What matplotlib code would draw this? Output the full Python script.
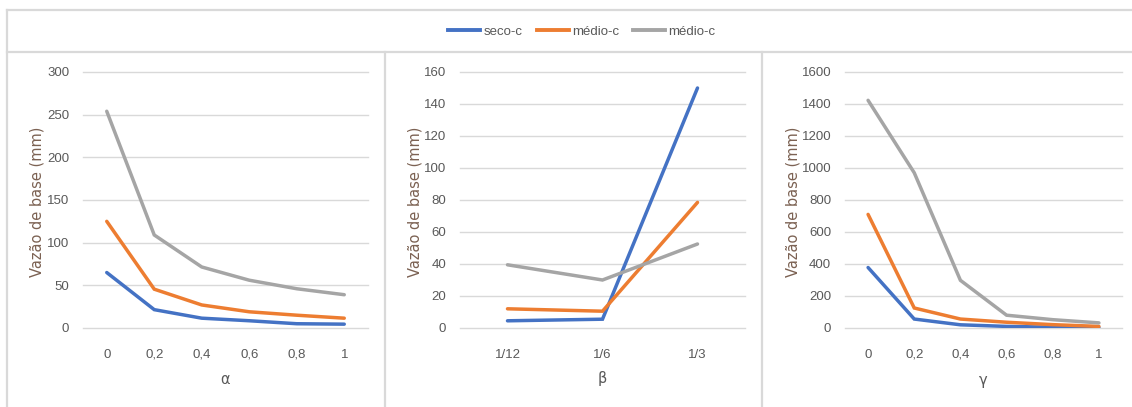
import matplotlib
matplotlib.use("Agg")
import matplotlib.pyplot as plt
from matplotlib.lines import Line2D

# Series names and colours
series_names = ["seco-c", "médio-c", "médio-c"]
series_colors = ["#4472C4", "#ED7D31", "#A5A5A5"]

# Panel 1: alpha
alpha_labels = ["0", "0,2", "0,4", "0,6", "0,8", "1"]
alpha_seco = [65, 21.5, 11.5, 8.5, 5, 4.5]
alpha_medio = [125, 45.5, 27, 19, 15, 11.5]
alpha_medio2 = [254, 109, 71.5, 56, 46, 39]

# Panel 2: beta
beta_labels = ["1/12", "1/6", "1/3"]
beta_seco = [4.5, 5.5, 150]
beta_medio = [12, 10.5, 78.5]
beta_medio2 = [39.5, 30, 52.5]

# Panel 3: gamma
gamma_labels = ["0", "0,2", "0,4", "0,6", "0,8", "1"]
gamma_seco = [378, 56, 20, 10, 5, 3]
gamma_medio = [710, 125, 56, 36, 21, 10]
gamma_medio2 = [1423, 970, 298, 80, 52, 32]

W, H = 1132, 407
fig = plt.figure(figsize=(W / 100, H / 100), dpi=100)
fig.patch.set_facecolor("white")

TICKFONT = ["Liberation Sans", "DejaVu Sans"]
TXT = "#595959"
YLAB = "#7b6152"
GRID = "#d9d9d9"


def px_axes(x0, y0, x1, y1):
    return fig.add_axes([x0 / W, 1 - y1 / H, (x1 - x0) / W, (y1 - y0) / H])


panels = [
    dict(box=(83, 72, 368, 328), labels=alpha_labels,
         data=[alpha_seco, alpha_medio, alpha_medio2],
         ymax=300, step=50, xlabel="α", ylab_x=37, xlab_y=380),
    dict(box=(460, 72, 745, 328), labels=beta_labels,
         data=[beta_seco, beta_medio, beta_medio2],
         ymax=160, step=20, xlabel="β", ylab_x=415, xlab_y=378),
    dict(box=(845, 72, 1122, 328), labels=gamma_labels,
         data=[gamma_seco, gamma_medio, gamma_medio2],
         ymax=1600, step=200, xlabel="γ", ylab_x=793, xlab_y=380),
]

for p in panels:
    x0, y0, x1, y1 = p["box"]
    ax = px_axes(x0, y0, x1, y1)
    n = len(p["labels"])
    xs = list(range(n))
    for vals, col in zip(p["data"], series_colors):
        ax.plot(xs, vals, color=col, lw=2.5, solid_capstyle="round",
                solid_joinstyle="miter", zorder=3)
    ax.set_xlim(-0.5, n - 0.5)
    ax.set_ylim(0, p["ymax"])
    ticks = list(range(0, p["ymax"] + 1, p["step"]))
    ax.set_yticks(ticks)
    ax.set_yticklabels([str(t) for t in ticks], family=TICKFONT,
                       fontsize=9.5, color=TXT)
    ax.set_xticks(xs)
    ax.set_xticklabels(p["labels"], family=TICKFONT, fontsize=9.5, color=TXT)
    ax.tick_params(axis="both", length=0)
    ax.tick_params(axis="y", pad=10)
    ax.tick_params(axis="x", pad=15)
    ax.grid(axis="y", color=GRID, lw=1, zorder=0)
    for gl in ax.get_ygridlines():
        gl.set_clip_on(False)
    for s in ax.spines.values():
        s.set_visible(False)
    ax.set_facecolor("none")
    fig.text(p["ylab_x"] / W, 1 - ((y0 + y1) / 2 + 2) / H,
             "Vazão de base (mm)", rotation=90, ha="center", va="center",
             fontsize=10.5, color=YLAB, family="DejaVu Sans")
    fig.text((x0 + x1) / 2 / W, 1 - p["xlab_y"] / H, p["xlabel"],
             ha="center", va="center", fontsize=10.5, color=TXT,
             family="DejaVu Sans")

# Frame lines around the chart area
frame = [
    ((7, W), (9.5, 9.5)),
    ((7, W), (52, 52)),
    ((7, 7), (9.5, H)),
    ((385, 385), (52, H)),
    ((762, 762), (52, H)),
]
for xx, yy in frame:
    fig.add_artist(Line2D([x / W for x in xx], [1 - y / H for y in yy],
                          color=GRID, lw=1.6, transform=fig.transFigure))

handles = [Line2D([], [], color=c, lw=2.8) for c in series_colors]
fig.legend(handles, series_names, loc="center", bbox_to_anchor=(582 / W, 1 - 32 / H),
           ncol=3, frameon=False, handlelength=2.4, handletextpad=0.25,
           columnspacing=1.1, prop={"family": TICKFONT, "size": 9.5},
           labelcolor=TXT)

fig.savefig("out.png", dpi=100, facecolor="white")
